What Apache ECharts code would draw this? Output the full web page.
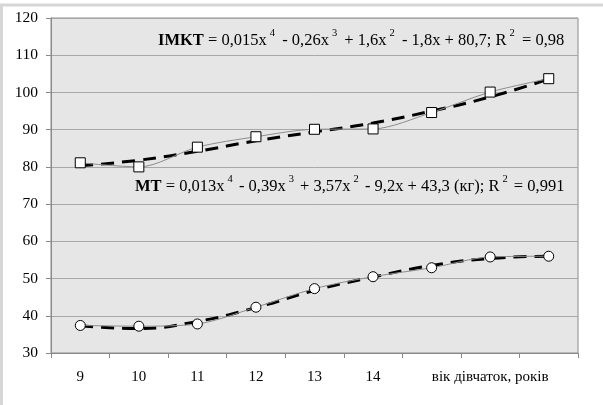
<!DOCTYPE html>
<html>
<head>
<meta charset="utf-8">
<script src="https://cdn.jsdelivr.net/npm/echarts@6/dist/echarts.min.js"></script>
<style>
  html, body { margin: 0; padding: 0; background: #fff; }
  #chart { width: 603px; height: 405px; }
</style>
</head>
<body>
<div id="chart"></div>
<script>
// ages 9..17, only 9-14 are labelled, axis title sits under 16
var ages = ['9', '10', '11', '12', '13', '14', '15', '16', '17']
var ageLabels = ['9', '10', '11', '12', '13', '14', '', 'вік дівчаток, років', '']

var imktValues = [81.1, 80.0, 85.3, 88.1, 90.1, 90.2, 94.6, 100.1, 103.7]
var imktTrend = [80.3, 81.8, 84.2, 87.0, 89.4, 91.8, 95.0, 98.8, 103.6]

// MT (body mass, kg)
var mtValues = [37.4, 37.2, 37.8, 42.3, 47.3, 50.5, 52.9, 55.8, 56.0]
var mtTrend = [37.3, 36.6, 38.5, 42.2, 46.8, 50.4, 53.5, 55.4, 56.0]

var yMin = 30, yMax = 120, yStep = 10

var serif = '"Liberation Serif", "DejaVu Serif", serif'

function richFor(supPad) {
    return {
        b: { fontFamily: serif, fontSize: 16.5, fontWeight: 'bold', lineHeight: 26, color: '#000' },
        n: { fontFamily: serif, fontSize: 16.5, lineHeight: 26, color: '#000' },
        s: { fontFamily: serif, fontSize: 10.5, verticalAlign: 'top', lineHeight: 12, padding: supPad, color: '#000' }
    }
}

var dom = echarts.init(document.getElementById('chart'), null, { renderer: 'canvas' })

var options = {
    animation: false,
    backgroundColor: '#fff',
    grid: {
        left: 51,
        right: 25,
        top: 18,
        bottom: 52,
        show: true,
        backgroundColor: '#e6e6e6',
        borderColor: '#8a8a8a',
        borderWidth: 1
    },
    xAxis: {
        type: 'category',
        data: ages,
        boundaryGap: true,
        axisLine: { lineStyle: { color: '#8a8a8a', width: 1 } },
        axisTick: { show: true, length: 5, lineStyle: { color: '#8a8a8a' } },
        axisLabel: {
            interval: 0,
            margin: 17,
            fontFamily: serif,
            fontSize: 15,
            color: '#000',
            formatter: function (v, i) { return ageLabels[i] }
        },
        splitLine: { show: false }
    },
    yAxis: {
        type: 'value',
        min: yMin,
        max: yMax,
        interval: yStep,
        axisLine: { show: true, lineStyle: { color: '#8a8a8a', width: 1 } },
        axisTick: { show: true, length: 5, lineStyle: { color: '#8a8a8a' } },
        axisLabel: {
            margin: 13,
            fontFamily: serif,
            fontSize: 15.5,
            color: '#000'
        },
        splitLine: { show: true, lineStyle: { color: '#a8a8a8', width: 1 } }
    },
    series: [
        {
            name: 'IMKT тренд',
            type: 'line',
            data: imktTrend,
            smooth: 0.5,
            symbol: 'none',
            lineStyle: { color: '#000', width: 3, type: [13, 8] },
            z: 2
        },
        {
            name: 'IMKT',
            type: 'line',
            data: imktValues,
            smooth: 0.3,
            symbol: 'rect',
            symbolSize: 10,
            itemStyle: { color: '#fff', borderColor: '#000', borderWidth: 1 },
            lineStyle: { color: '#8c8c8c', width: 1 },
            z: 3
        },
        {
            name: 'MT тренд',
            type: 'line',
            data: mtTrend,
            smooth: 0.5,
            symbol: 'none',
            lineStyle: { color: '#000', width: 3, type: [13, 8] },
            z: 2
        },
        {
            name: 'MT',
            type: 'line',
            data: mtValues,
            smooth: 0.3,
            symbol: 'circle',
            symbolSize: 10,
            itemStyle: { color: '#fff', borderColor: '#000', borderWidth: 1 },
            lineStyle: { color: '#8c8c8c', width: 1 },
            z: 3
        }
    ],
    graphic: [
        // outer frame of the figure
        { type: 'line', shape: { x1: 0, y1: 5, x2: 603, y2: 5 }, style: { stroke: '#d6d6d6', lineWidth: 3 } },
        { type: 'line', shape: { x1: 1.5, y1: 5, x2: 1.5, y2: 405 }, style: { stroke: '#d6d6d6', lineWidth: 3 } },
        {
            type: 'text',
            left: 158,
            top: 28,
            z: 10,
            style: {
                text: '{b|IMKT}{n| = 0,015x}{s|4}{n| - 0,26x}{s|3}{n| + 1,6x}{s|2}{n| - 1,8x + 80,7; R}{s|2}{n| = 0,98}',
                rich: richFor([0, 3, 0, 3])
            }
        },
        {
            type: 'text',
            left: 135,
            top: 174,
            z: 10,
            style: {
                text: '{b|MT}{n| = 0,013x}{s|4}{n| - 0,39x}{s|3}{n| + 3,57x}{s|2}{n| - 9,2x + 43,3 (кг); R}{s|2}{n| = 0,991}',
                rich: richFor([0, 2, 0, 3])
            }
        }
    ]
}

dom.setOption(options)
</script>
</body>
</html>
